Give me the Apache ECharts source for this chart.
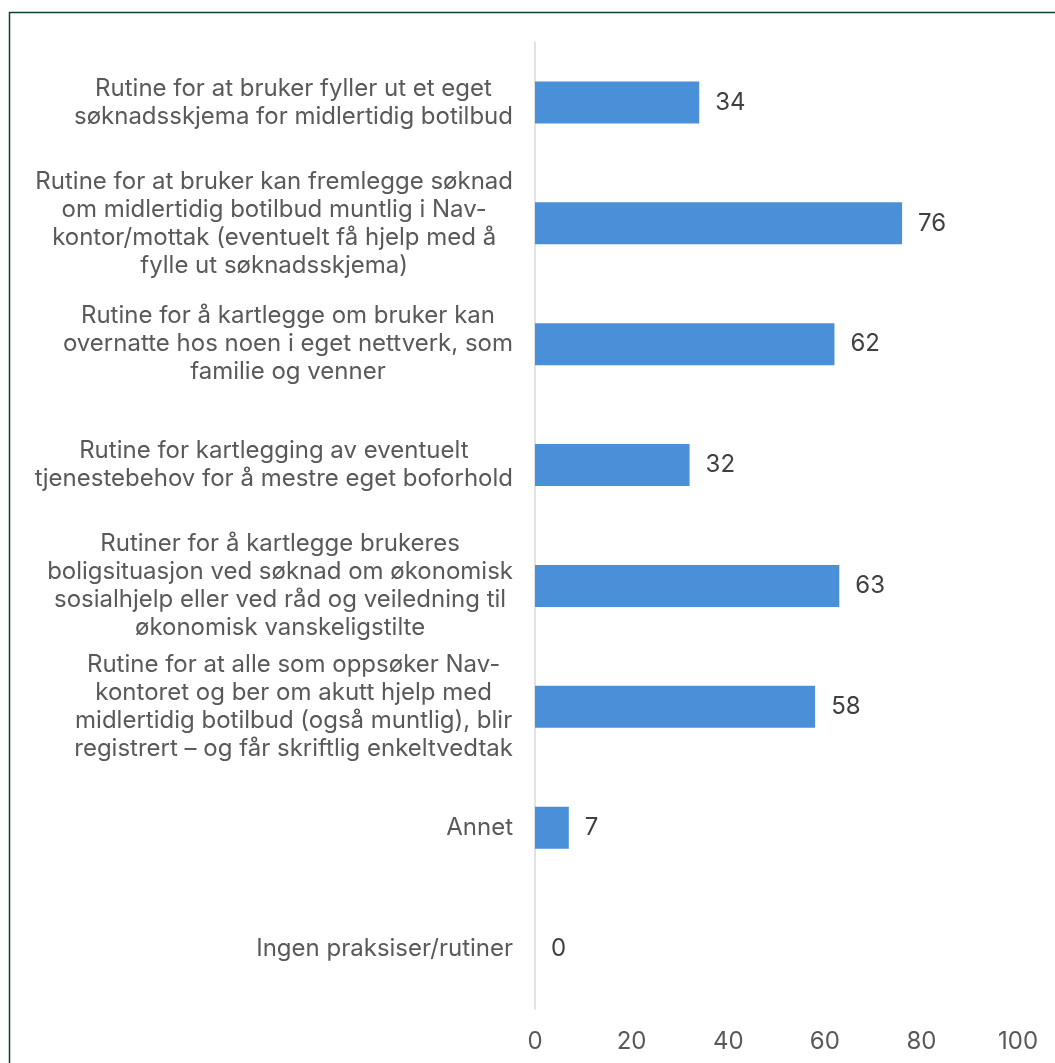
<!DOCTYPE html>
<html>
<head>
<meta charset="utf-8">
<script src="https://cdn.jsdelivr.net/npm/echarts@6/dist/echarts.min.js"></script>
<style>
  html, body { margin: 0; padding: 0; background: #ffffff; }
  #chart { width: 1055px; height: 1063px; }
</style>
</head>
<body>
<div id="chart"></div>
<script>
// Survey answers: which routines the Nav offices have (number of offices)
const categories = [
  'Rutine for at bruker fyller ut et eget\nsøknadsskjema for midlertidig botilbud',
  'Rutine for at bruker kan fremlegge søknad\nom midlertidig botilbud muntlig i Nav-\nkontor/mottak (eventuelt få hjelp med å\nfylle ut søknadsskjema)',
  'Rutine for å kartlegge om bruker kan\novernatte hos noen i eget nettverk, som\nfamilie og venner',
  'Rutine for kartlegging av eventuelt\ntjenestebehov for å mestre eget boforhold',
  'Rutiner for å kartlegge brukeres\nboligsituasjon ved søknad om økonomisk\nsosialhjelp eller ved råd og veiledning til\nøkonomisk vanskeligstilte',
  'Rutine for at alle som oppsøker Nav-\nkontoret og ber om akutt hjelp med\nmidlertidig botilbud (også muntlig), blir\nregistrert – og får skriftlig enkeltvedtak',
  'Annet',
  'Ingen praksiser/rutiner'
];
const values = [34, 76, 62, 32, 63, 58, 7, 0];
const tickValues = [0, 20, 40, 60, 80, 100];

const FONT = 'Inter, "Noto Sans", sans-serif';
const chart = echarts.init(document.getElementById('chart'), null, { renderer: 'canvas' });

chart.setOption({
  animation: false,
  backgroundColor: '#ffffff',
  graphic: [{
    type: 'rect',
    silent: true,
    z: -1,
    shape: { x: 9.5, y: 12.5, width: 1200, height: 1200 },
    style: { fill: 'none', stroke: '#0f3d37', lineWidth: 1.5 }
  }],
  grid: { left: 535, right: 37, top: 42, bottom: 54, containLabel: false },
  xAxis: {
    type: 'value',
    min: tickValues[0],
    max: tickValues[tickValues.length - 1],
    interval: tickValues[1] - tickValues[0],
    axisLine: { show: false },
    axisTick: { show: false },
    splitLine: { show: false },
    axisLabel: { color: '#595959', fontSize: 24, fontFamily: FONT, margin: 21 }
  },
  yAxis: {
    type: 'category',
    data: categories,
    inverse: true,
    axisLine: { show: true, lineStyle: { color: '#d9d9d9', width: 1.5 } },
    axisTick: { show: false },
    axisLabel: {
      interval: 0,
      margin: 22,
      formatter: v => v.split('\n').map(s => '{c|' + s + '}').join('\n'),
      rich: {
        c: { align: 'center', fontSize: 24, lineHeight: 28, color: '#595959', fontFamily: FONT }
      }
    }
  },
  series: [{
    type: 'bar',
    data: values,
    barWidth: 42,
    itemStyle: { color: '#4a90d9' },
    label: {
      show: true,
      position: 'right',
      distance: 16,
      fontSize: 24,
      color: '#404040',
      fontFamily: FONT
    }
  }]
});
</script>
</body>
</html>
